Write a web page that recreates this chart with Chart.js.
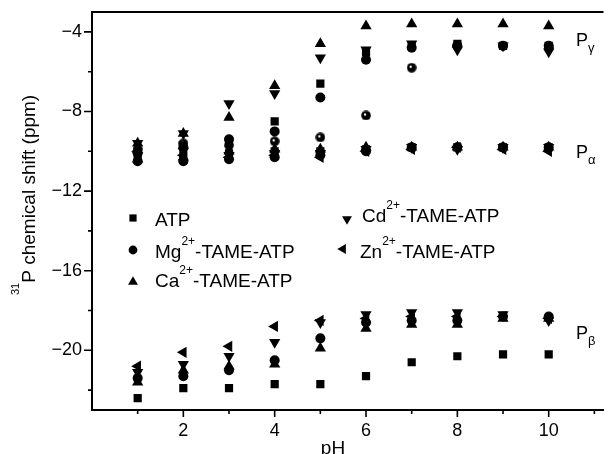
<!DOCTYPE html>
<html>
<head>
<meta charset="utf-8">
<script src="https://cdn.jsdelivr.net/npm/chart.js@4.4.1/dist/chart.umd.min.js"></script>
<style>
  html, body { margin: 0; padding: 0; background: #fff; }
</style>
</head>
<body>
<canvas id="shiftChart" width="610" height="454"></canvas>
<script>
// pH values used for every series
const pH = [1, 2, 3, 4, 5, 6, 7, 8, 9, 10];

// 31P chemical shifts (ppm): gamma, alpha, beta phosphates
const atpGamma = [-10.0, -9.7, -9.6, -8.5, -6.6, -5.0, -4.7, -4.6, -4.7, -4.7];
const atpAlpha = [-10.3, -10.2, -10.1, -10.0, -10.0, -9.9, -9.8, -9.8, -9.8, -9.8];
const atpBeta  = [-22.4, -21.9, -21.9, -21.7, -21.7, -21.3, -20.6, -20.3, -20.2, -20.2];

const mgGamma = [-10.1, -9.8, -9.4, -9.0, -7.3, -5.4, -4.8, -4.7, -4.7, -4.7];
const mgAlpha = [-10.5, -10.5, -10.4, -10.3, -10.2, -10.0, -9.8, -9.8, -9.8, -9.8];
const mgBeta  = [-21.4, -21.3, -21.0, -20.5, -19.4, -18.6, -18.5, -18.5, -18.3, -18.3];

const caGamma = [-9.6, -9.1, -8.3, -6.7, -4.6, -3.7, -3.6, -3.6, -3.6, -3.7];
const caAlpha = [-10.4, -10.3, -10.0, -9.9, -9.9, -9.8, -9.8, -9.8, -9.8, -9.8];
const caBeta  = [-21.6, -21.0, -20.8, -20.7, -19.9, -18.9, -18.7, -18.7, -18.4, -18.4];

const cdGamma = [-9.6, -9.1, -7.6, -7.1, -5.3, -4.9, -4.6, -4.9, -4.7, -5.0];
const cdAlpha = [-10.2, -10.0, -10.2, -10.1, -10.1, -9.9, -9.8, -9.9, -9.8, -9.8];
const cdBeta  = [-21.1, -20.7, -20.3, -19.6, -18.6, -18.2, -18.1, -18.1, -18.2, -18.5];

const znGamma = [-9.9, -9.6, -9.7, -9.5, -9.3, -8.2, -5.8, -4.7, -4.7, -4.8];
const znAlpha = [-10.0, -10.2, -10.3, -10.2, -10.3, -10.0, -9.9, -9.8, -9.9, -10.0];
const znBeta  = [-20.8, -20.1, -19.8, -18.8, -18.5, -18.4, -18.3, -18.3, -18.3, -18.4];

// axis ticks
const xMajorTicks = [2, 4, 6, 8, 10];
const xMinorTicks = [1, 3, 5, 7, 9, 11];
const yMajorTicks = [-20, -16, -12, -8, -4];
const yMinorTicks = [-22, -18, -14, -10, -6];

// legend labels, split into [text, kind] pieces
const legendLabels = [
    [["ATP", "n"]],
    [["Mg", "n"], ["2+", "sup"], ["-TAME-ATP", "n"]],
    [["Ca", "n"], ["2+", "sup"], ["-TAME-ATP", "n"]],
    [["Cd", "n"], ["2+", "sup"], ["-TAME-ATP", "n"]],
    [["Zn", "n"], ["2+", "sup"], ["-TAME-ATP", "n"]]
];
// peak name, subscript, shift where the label sits
const peakLabels = [["P", "\u03b3", -4.35], ["P", "\u03b1", -10.0], ["P", "\u03b2", -19.1]];

const FONT = '"Liberation Sans", Arial, sans-serif';

function toPoints(values) {
    return pH.map((x, i) => ({ x: x, y: values[i] }));
}

// little shaded ball used for the odd points in the figure
function makeBall() {
    const c = document.createElement("canvas");
    c.width = 10; c.height = 10;
    const g = c.getContext("2d");
    g.fillStyle = "#000";
    g.beginPath(); g.arc(5, 5, 4.8, 0, Math.PI * 2); g.fill();
    g.fillStyle = "#fff";
    g.beginPath(); g.arc(4, 4, 1.2, 0, Math.PI * 2); g.fill();
    return c;
}

const markers = [
    { style: "rect", radius: 5.8, rotation: 0 },
    { style: "circle", radius: 5, rotation: 0 },
    { style: "triangle", radius: 6.5, rotation: 0 },
    { style: "triangle", radius: 6.5, rotation: 180 },
    { style: "triangle", radius: 6.5, rotation: 270 }
];

function dataset(label, points, m) {
    return {
        label: label,
        data: points,
        pointStyle: m.style,
        pointRadius: m.radius,
        pointRotation: m.rotation,
        pointBackgroundColor: "#000",
        pointBorderWidth: 0,
        showLine: false
    };
}

const datasets = [
    dataset("ATP", [...toPoints(atpGamma), ...toPoints(atpAlpha), ...toPoints(atpBeta)], markers[0]),
    dataset("Mg", [...toPoints(mgGamma), ...toPoints(mgAlpha), ...toPoints(mgBeta)], markers[1]),
    dataset("Ca", [...toPoints(caGamma), ...toPoints(caAlpha), ...toPoints(caBeta)], markers[2]),
    dataset("Cd", [...toPoints(cdGamma), ...toPoints(cdAlpha), ...toPoints(cdBeta)], markers[3]),
    dataset("Zn", [...toPoints(znAlpha), ...toPoints(znBeta)], markers[4]),
    dataset("Zn gamma", toPoints(znGamma), { style: makeBall(), radius: 5, rotation: 0 })
];

// draws text pieces side by side; sup/sub pieces use the small size
function richText(ctx, x, y, parts, size, small) {
    parts.forEach(([t, kind]) => {
        const s = kind === "n" ? size : small;
        ctx.font = `${s}px ${FONT}`;
        let dy = 0;
        if (kind === "sup") dy = -13;
        else if (kind === "sup2") dy = -16;
        else if (kind === "sub") dy = 6;
        ctx.fillText(t, x, y + dy);
        x += ctx.measureText(t).width;
    });
}

const decorPlugin = {
    id: "decor",
    afterDraw(chart) {
        const ctx = chart.ctx;
        const area = chart.chartArea;
        const xs = chart.scales.x;
        const ys = chart.scales.y;
        ctx.save();
        ctx.strokeStyle = "#000";
        ctx.fillStyle = "#000";

        // top frame line
        ctx.lineWidth = 2;
        ctx.beginPath();
        ctx.moveTo(area.left - 1, area.top);
        ctx.lineTo(area.right, area.top);
        ctx.stroke();

        // outward tick marks
        ctx.lineWidth = 1.6;
        ctx.beginPath();
        xMajorTicks.forEach(v => { const px = xs.getPixelForValue(v); ctx.moveTo(px, area.bottom); ctx.lineTo(px, area.bottom + 7); });
        xMinorTicks.forEach(v => { const px = xs.getPixelForValue(v); ctx.moveTo(px, area.bottom); ctx.lineTo(px, area.bottom + 4); });
        yMajorTicks.forEach(v => { const py = ys.getPixelForValue(v); ctx.moveTo(area.left, py); ctx.lineTo(area.left - 8, py); });
        yMinorTicks.forEach(v => { const py = ys.getPixelForValue(v); ctx.moveTo(area.left, py); ctx.lineTo(area.left - 4, py); });
        ctx.stroke();

        ctx.textAlign = "left";
        ctx.textBaseline = "alphabetic";

        // peak labels on the right
        peakLabels.forEach(([p, sub, v]) => {
            const py = ys.getPixelForValue(v) + 7;
            richText(ctx, 576, py, [[p, "n"], [sub, "sub"]], 18, 13);
        });

        // legend, two columns
        const legendPos = [[133, 218, 155, 226], [133, 250, 155, 258], [133, 282, 155, 287],
                           [347, 219, 362, 222], [343, 249, 360, 258]];
        legendLabels.forEach((parts, i) => {
            const m = markers[i];
            const [mx, my, tx, ty] = legendPos[i];
            Chart.helpers.drawPoint(ctx, {
                pointStyle: m.style, radius: m.radius * 0.88, rotation: m.rotation, borderWidth: 0
            }, mx, my);
            ctx.fillStyle = "#000";
            richText(ctx, tx, ty, parts, 19, 12);
        });

        // axis titles
        ctx.font = `19px ${FONT}`;
        ctx.textAlign = "center";
        ctx.fillText("pH", 333, 454);

        ctx.save();
        ctx.translate(35, 295);
        ctx.rotate(-Math.PI / 2);
        ctx.textAlign = "left";
        richText(ctx, 0, 0, [["31", "sup2"], ["P chemical shift (ppm)", "n"]], 19, 11);
        ctx.restore();

        ctx.restore();
    }
};

new Chart(document.getElementById("shiftChart"), {
    type: "scatter",
    data: { datasets: datasets },
    options: {
        responsive: false,
        animation: false,
        layout: { padding: { top: 12, right: 0, left: 0, bottom: 0 } },
        plugins: { legend: { display: false }, tooltip: { enabled: false } },
        scales: {
            x: {
                type: "linear",
                min: 0,
                max: 11.2,
                border: { display: true, color: "#000", width: 2 },
                grid: { display: false, drawTicks: false },
                ticks: { color: "#000", font: { family: FONT, size: 18 }, padding: 10 },
                afterBuildTicks: s => { s.ticks = xMajorTicks.map(v => ({ value: v })); },
                afterFit: s => { s.height = 44; s.paddingLeft = 0; s.paddingRight = 0; }
            },
            y: {
                type: "linear",
                min: -23,
                max: -3,
                border: { display: true, color: "#000", width: 2 },
                grid: { display: false, drawTicks: false },
                ticks: {
                    color: "#000",
                    font: { family: FONT, size: 18 },
                    padding: 10,
                    callback: v => String(v).replace("-", "\u2212")
                },
                afterBuildTicks: s => { s.ticks = yMajorTicks.map(v => ({ value: v })); },
                afterFit: s => { s.width = 92; s.paddingTop = 0; s.paddingBottom = 0; }
            }
        }
    },
    plugins: [decorPlugin]
});
</script>
</body>
</html>
